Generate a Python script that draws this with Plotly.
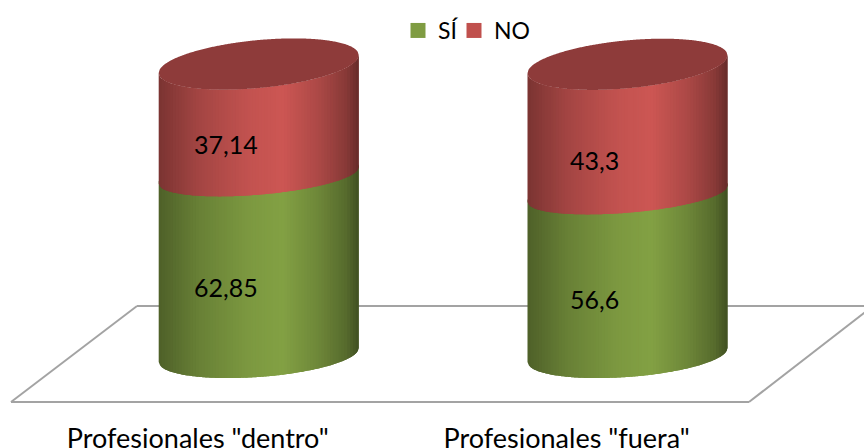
import numpy as np
import plotly.graph_objects as go

categories = ['Profesionales "dentro"', 'Profesionales "fuera"']
si_values = [62.85, 56.6]
no_values = [37.14, 43.3]
si_labels = ["62,85", "56,6"]
no_labels = ["37,14", "43,3"]

W, H, PLOT_H = 864, 448, 420
PX_X, PX_Y = 368.8, 2.91
X0_PX, Y0_PX = 258.7, 355
HALF = 100 / PX_X
N = 70

def level(v):
    return v - 0.0005 * v * (100 - v)

def depth(v):
    return (22 - 0.155 * v + 0.00175 * v * v) / PX_Y

def tilt(v):
    return (7 + 0.02 * v) / PX_Y

def front(v, u):
    return level(v) + tilt(v) * u - depth(v) * np.sqrt(np.clip(1 - u * u, 0, 1))

def back(v, u):
    return level(v) + tilt(v) * u + depth(v) * np.sqrt(np.clip(1 - u * u, 0, 1))

STOP_T = [0.0, 0.06, 0.2, 0.45, 0.62, 0.8, 0.94, 1.0]
STOP_K = [0.60, 0.66, 0.80, 0.95, 1.0, 0.84, 0.66, 0.50]

def shade(base, u):
    k = np.interp((u + 1) / 2, STOP_T, STOP_K)
    return "rgb(%d,%d,%d)" % tuple(int(c * k) for c in base)

GREEN = (131, 161, 68)
RED = (205, 87, 84)
edges = np.linspace(-1, 1, N + 1)

fig = go.Figure()

for base_col, name, lows, highs, extra in (
    (GREEN, "SÍ", [0, 0], si_values, 1.0),
    (RED, "NO", si_values, [a + b for a, b in zip(si_values, no_values)], 0.0),
):
    for i in range(len(categories)):
        for k in range(N):
            end = min(k + 2, N)
            us = np.linspace(edges[k], edges[end], 5)
            xp = list(i + us * HALF) + list(i + us[::-1] * HALF)
            yp = list(front(highs[i], us) + extra) + list(front(lows[i], us[::-1]))
            col = shade(base_col, (edges[k] + edges[k + 1]) / 2)
            fig.add_trace(go.Scatter(x=xp, y=yp, mode="none", fill="toself", fillcolor=col,
                                     showlegend=False, hoverinfo="skip", name=name))

# top caps
uu = np.linspace(-1, 1, 201)
for i in range(len(categories)):
    top = si_values[i] + no_values[i]
    xp = list(i + uu * HALF) + list(i + uu[::-1] * HALF)
    yp = list(front(top, uu)) + list(back(top, uu[::-1]))
    fig.add_trace(go.Scatter(x=xp, y=yp, mode="none", fill="toself", fillcolor="#8E3B3A",
                             showlegend=False, hoverinfo="skip"))

# legend entries, each in its own legend so the spacing can match
fig.add_trace(go.Scatter(x=[None], y=[None], mode="markers", name="SÍ", legend="legend",
                         marker=dict(symbol="square", size=15, color="#7F9C42")))
fig.add_trace(go.Scatter(x=[None], y=[None], mode="markers", name="NO", legend="legend2",
                         marker=dict(symbol="square", size=15, color="#C0504D")))

# floor
def fx(p):
    return (p - X0_PX) / PX_X

def fy(p):
    return (Y0_PX - p) / PX_Y

floor = [(137, 306, 880, 306), (11, 402, 137, 306), (11, 402, 749, 402), (749, 402, 873, 306)]
shapes = [dict(type="line", layer="below", xref="x", yref="y",
               x0=fx(a), y0=fy(b), x1=fx(c), y1=fy(d),
               line=dict(color="#A3A3A3", width=2)) for a, b, c, d in floor]

# data labels
LABEL_FONT = dict(size=25, color="black", family="Lato")
si_shift = [-22, -25]
no_shift = [-24, -31]
ann = []
for i in range(len(categories)):
    ann.append(dict(x=i - 0.09, y=level(si_values[i]) / 2, text=si_labels[i],
                    showarrow=False, yshift=si_shift[i], font=LABEL_FONT))
    ann.append(dict(x=i - 0.09, y=(level(si_values[i]) + level(si_values[i] + no_values[i])) / 2,
                    text=no_labels[i], showarrow=False, yshift=no_shift[i], font=LABEL_FONT))

legend_common = dict(orientation="h", y=1 - 9 / PLOT_H, xanchor="left", yanchor="top",
                     font=dict(size=23), itemsizing="trace", bgcolor="rgba(0,0,0,0)")

fig.update_layout(
    width=W, height=H, margin=dict(l=0, r=0, t=0, b=H - PLOT_H),
    paper_bgcolor="white", plot_bgcolor="white",
    font=dict(family="Lato", size=24, color="black"),
    shapes=shapes, annotations=ann,
    legend=dict(x=398 / W, **legend_common),
    legend2=dict(x=454 / W, **legend_common),
    xaxis=dict(range=[fx(0), fx(W)], showgrid=False, zeroline=False, showline=False, automargin=False,
               tickmode="array", tickvals=[i - 0.165 for i in range(len(categories))],
               ticktext=categories, ticks="", tickfont=dict(size=27, family="Lato")),
    yaxis=dict(range=[fy(PLOT_H), fy(0)], visible=False, automargin=False),
)
fig.write_html("out.html", config={"displayModeBar": False},
               post_script="document.body.style.margin='0';document.documentElement.style.overflow='hidden';")
